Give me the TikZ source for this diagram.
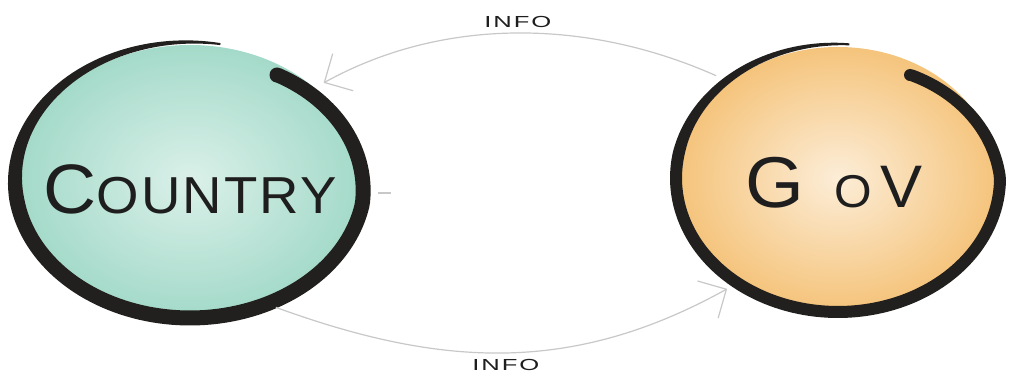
\documentclass[tikz,border=0pt]{standalone}
\usepackage{fontspec}
\setmainfont{Liberation Sans}
\newfontfamily\infofont[FakeStretch=1.6, LetterSpace=12]{Liberation Sans}
\newfontfamily\handfont[FakeStretch=1.05, LetterSpace=4]{Liberation Sans}
\usetikzlibrary{
  arrows.meta,
  shapes.geometric
}
\definecolor{countryfill}{RGB}{164, 218, 201}
\definecolor{govfill}{RGB}{245, 196, 124}
\definecolor{infogray}{RGB}{200, 200, 200}
\definecolor{inkblack}{RGB}{34,  32,  30}
\definecolor{penblack}{RGB}{30,  30,  30}
\tikzset{
  % radius of the hand drawn ring and width of the brush
  declare function={
    spiral(\t,\s,\e,\k) = 1-\k*max(0,(\t-\s)/(\e-\s));
    nib(\t,\s,\m)       = min(2+0.12*(\t-\s),\m);
  },
  % watercolour blobs
  blob/.style        = {ellipse, inner sep=0pt},
  countryblob/.style = {blob, minimum width=340pt, minimum height=270pt,
                        outer sep=10pt,
                        inner color=countryfill!40!white, outer color=countryfill},
  govblob/.style     = {blob, minimum width=316pt, minimum height=262pt,
                        outer sep=14pt,
                        inner color=govfill!30!white, outer color=govfill},
  blobtext/.style    = {anchor=base, inner sep=0pt, text=penblack, font=\handfont},
  ink/.style         = {fill=inkblack},
  % arrows
  infoarrow/.style   = {draw=infogray, line width=1.2pt,
                        -{Straight Barb[angle=90:30pt, line width=1.2pt]}},
  infolab/.style     = {font=\infofont\fontsize{16}{16}\selectfont,
                        text=penblack, inner sep=2pt},
}

\begin{document}
\begin{tikzpicture}[x=1pt, y=-1pt]
  \fill[white] (0,0) rectangle (1013,387);
  \useasboundingbox (0,0) rectangle (1013,387);

  % the two blobs
  \node[countryblob] (country) at (190,180) {};
  \node[govblob] (gov) at (838,178) {};
  \node[blobtext] (countrylabel) at ([yshift=-34pt]country.center)
    {{\fontsize{70}{70}\selectfont C}{\fontsize{52}{52}\selectfont OUNTRY}};
  \node[blobtext] (govlabel) at ([xshift=-4pt, yshift=-30pt]gov.center)
    {{\fontsize{72}{72}\selectfont G}\hspace{30pt}{\fontsize{46}{46}\selectfont O}\hspace{8pt}{\fontsize{60}{60}\selectfont V}};

  % ink rings, drawn as a spiral stroke of changing width
  \fill[ink] plot[domain=80:417, samples=160]
      ({190+(175*spiral(\x,350,417,0.09)+nib(\x,80,15)/2)*cos(\x)},
       {180-(138*spiral(\x,350,417,0.09)+nib(\x,80,15)/2)*sin(\x)})
    -- plot[domain=417:80, samples=160]
      ({190+(175*spiral(\x,350,417,0.09)-nib(\x,80,15)/2)*cos(\x)},
       {180-(138*spiral(\x,350,417,0.09)-nib(\x,80,15)/2)*sin(\x)})
    -- cycle;
  \fill[ink] (277,75) circle (7.5pt);
  \fill[ink] plot[domain=86:420, samples=160]
      ({838+(162*spiral(\x,360,420,0.11)+nib(\x,86,12)/2)*cos(\x)},
       {178-(134*spiral(\x,360,420,0.11)+nib(\x,86,12)/2)*sin(\x)})
    -- plot[domain=420:86, samples=160]
      ({838+(162*spiral(\x,360,420,0.11)-nib(\x,86,12)/2)*cos(\x)},
       {178-(134*spiral(\x,360,420,0.11)-nib(\x,86,12)/2)*sin(\x)})
    -- cycle;
  \fill[ink] (910,75) circle (6pt);

  % info going both ways
  \draw[infoarrow] (gov.140) to[out=156, in=29, looseness=0.9]
    node[infolab, above=3pt] (infotop) {INFO} (country.36);
  \draw[infoarrow] (country.-56) to[out=-20, in=209]
    node[infolab, below=4pt] (infobot) {INFO} (gov.225.5);
  \draw[infogray, line width=1.2pt] (378,193) -- (391,193);
\end{tikzpicture}
\end{document}
